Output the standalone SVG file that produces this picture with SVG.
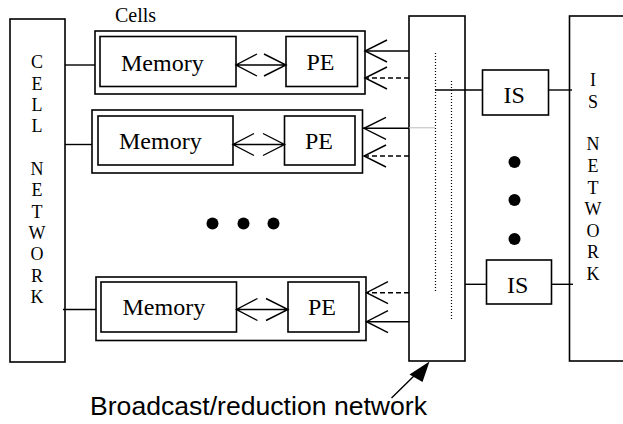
<svg xmlns="http://www.w3.org/2000/svg" width="623" height="424" viewBox="0 0 623 424">
<style>
.box{fill:#fff;stroke:#000;stroke-width:1.6}
.ln{fill:none;stroke:#000;stroke-width:1.4}
.dash{fill:none;stroke:#000;stroke-width:1.4;stroke-dasharray:5,3}
.dot{fill:none;stroke:#000;stroke-width:1.2;stroke-dasharray:1,2}
.t{font-family:"Liberation Serif","Times New Roman",serif;font-size:24px;fill:#000}
.v{font-family:"Liberation Serif","Times New Roman",serif;font-size:18px;fill:#000;text-anchor:middle}
.s{font-family:"Liberation Sans",Arial,sans-serif;font-size:25px;fill:#000}
</style>
<rect width="623" height="424" fill="#fff"/>
<g id="cell-network">
<rect class="box" x="10" y="19" width="55" height="343"/>
<text class="v" x="37"><tspan x="37" y="68">C</tspan><tspan x="37" y="89.5">E</tspan><tspan x="37" y="111">L</tspan><tspan x="37" y="132">L</tspan><tspan x="37" y="175">N</tspan><tspan x="37" y="196">E</tspan><tspan x="37" y="217.5">T</tspan><tspan x="37" y="239">W</tspan><tspan x="37" y="260">O</tspan><tspan x="37" y="281.5">R</tspan><tspan x="37" y="303">K</tspan></text>
</g>
<g id="cells-label"><text class="t" style="font-size:20px" x="115" y="22">Cells</text></g>
<g id="cell1">
<rect class="box" x="95" y="31" width="270" height="63"/>
<rect class="box" x="100" y="36.5" width="136" height="50"/>
<text class="t" x="121" y="71">Memory</text>
<rect class="box" x="286" y="36.5" width="71.5" height="50"/>
<text class="t" x="306.5" y="70">PE</text>
</g>
<g id="cell2">
<rect class="box" x="92" y="110" width="270.5" height="63"/>
<rect class="box" x="98" y="116" width="135" height="49"/>
<text class="t" x="119" y="149">Memory</text>
<rect class="box" x="284.5" y="116" width="70.5" height="49"/>
<text class="t" x="305" y="149">PE</text>
</g>
<g id="cell3">
<rect class="box" x="96" y="277" width="270" height="63.5"/>
<rect class="box" x="101" y="282" width="135.5" height="50"/>
<text class="t" x="122.5" y="315">Memory</text>
<rect class="box" x="288" y="282" width="71" height="50"/>
<text class="t" x="308" y="315">PE</text>
</g>
<g id="broadcast-network">
<rect class="box" x="409" y="16" width="56" height="345"/>
<line class="dot" x1="435.5" y1="53" x2="435.5" y2="292"/>
<line class="dot" x1="451.5" y1="81" x2="451.5" y2="319"/>
</g>
<g id="is1">
<rect class="box" x="482.5" y="70" width="66" height="45"/>
<text class="t" x="503.5" y="103">IS</text>
</g>
<g id="is2">
<rect class="box" x="486.5" y="260" width="65" height="44"/>
<text class="t" x="507" y="293">IS</text>
</g>
<g id="is-network">
<rect class="box" x="569.5" y="16" width="100" height="345"/>
<text class="v" x="593"><tspan x="593" y="86">I</tspan><tspan x="593" y="107.5">S</tspan><tspan x="593" y="150">N</tspan><tspan x="593" y="172">E</tspan><tspan x="593" y="193.5">T</tspan><tspan x="593" y="215">W</tspan><tspan x="593" y="236.5">O</tspan><tspan x="593" y="258">R</tspan><tspan x="593" y="280">K</tspan></text>
</g>
<g id="ellipses">
<circle cx="212.5" cy="223.5" r="6"/>
<circle cx="243.5" cy="223.5" r="6"/>
<circle cx="273.5" cy="223.5" r="6"/>
<circle cx="514.5" cy="162" r="6"/>
<circle cx="514.5" cy="200" r="6"/>
<circle cx="514.5" cy="239" r="6"/>
</g>
<g id="connectors">
<line class="ln" x1="65" y1="65" x2="95" y2="65"/>
<line class="ln" x1="65" y1="144.5" x2="92" y2="144.5"/>
<line class="ln" x1="63" y1="309.5" x2="96" y2="309.5"/>
<path class="ln" d="M236 65H286M257 54L236 65L257 76M264 54L286 65L264 76"/>
<path class="ln" d="M233 144.5H284.5M254 133.5L233 144.5L254 155.5M263 133.5L284.5 144.5L263 155.5"/>
<path class="ln" d="M236.5 309.5H288M257.5 298.5L236.5 309.5L257.5 320.5M266 298.5L288 309.5L266 320.5"/>
<line class="ln" x1="409" y1="51" x2="365" y2="51"/>
<path class="ln" d="M387 40L365 51L387 62"/>
<line class="dash" x1="409" y1="78" x2="366" y2="78"/>
<path class="ln" d="M387 67L365 78L387 89"/>
<line class="ln" x1="409" y1="128.3" x2="363" y2="128.3"/>
<line x1="409" y1="127.8" x2="435" y2="127.8" stroke="#bbb" stroke-width="1"/>
<path class="ln" d="M386 117.3L364 128.3L386 139.3"/>
<line class="dash" x1="409" y1="156" x2="365" y2="156"/>
<path class="ln" d="M386 145L364 156L386 167"/>
<line class="dash" x1="409" y1="292.7" x2="367" y2="292.7"/>
<path class="ln" d="M388 281.7L366.5 292.7L388 303.7"/>
<line class="ln" x1="409" y1="321.7" x2="366" y2="321.7"/>
<path class="ln" d="M388 310.7L366.5 321.7L388 332.7"/>
<line class="ln" x1="435" y1="90" x2="482.5" y2="90"/>
<line class="ln" x1="548.5" y1="90" x2="572" y2="90"/>
<line class="ln" x1="465" y1="284.3" x2="486.5" y2="284.3"/>
<line class="ln" x1="551.5" y1="284.3" x2="573" y2="284.3"/>
<line class="ln" x1="391.5" y1="398" x2="418" y2="372"/>
<path d="M429.5 361.5L409.5 374.5L422.5 382Z" fill="#000"/>
</g>
<g id="caption"><text class="s" x="90" y="415" textLength="337" lengthAdjust="spacingAndGlyphs">Broadcast/reduction network</text></g>
</svg>
